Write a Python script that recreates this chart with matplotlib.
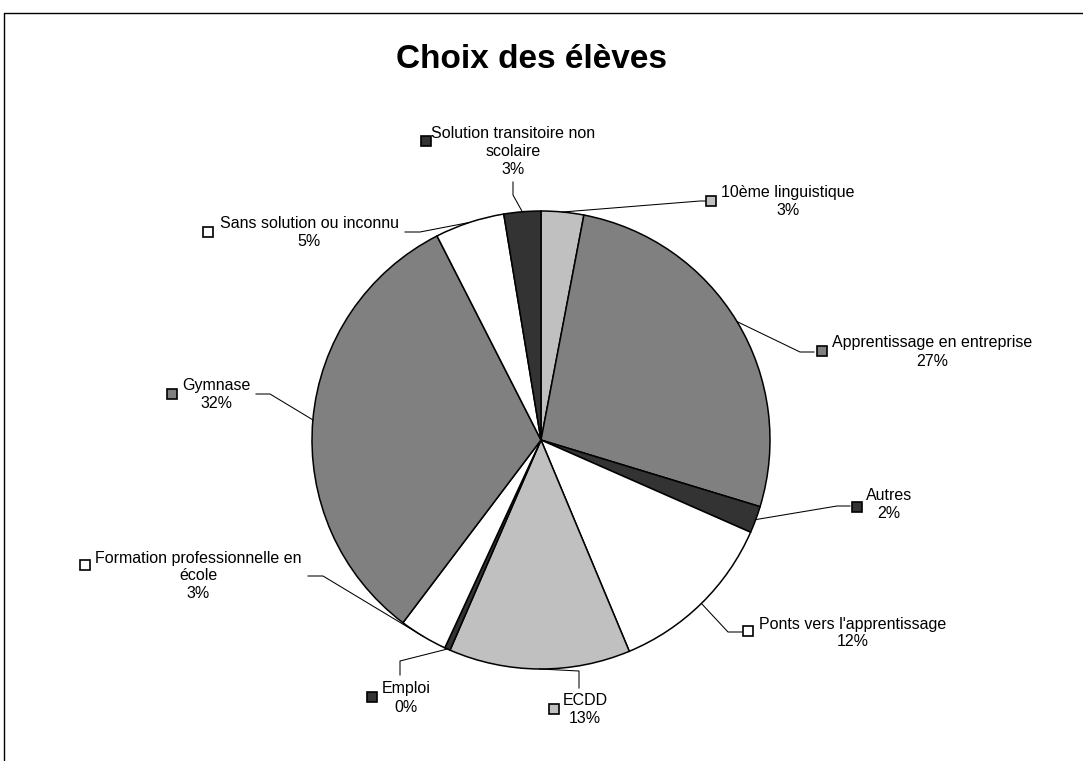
import numpy as np
import matplotlib
matplotlib.use("Agg")
import matplotlib.pyplot as plt

# Data (percent of pupils, clockwise from 12 o'clock)
categories = ["10ème linguistique", "Apprentissage en entreprise", "Autres",
              "Ponts vers l'apprentissage", "ECDD", "Emploi",
              "Formation professionnelle en\nécole", "Gymnase",
              "Sans solution ou inconnu",
              "Solution transitoire non\nscolaire"]
values = [3.0, 26.7, 1.9, 12.1, 12.8, 0.4, 3.4, 32.2, 4.9, 2.6]

LIGHT = "#C0C0C0"
MID = "#808080"
DARK = "#333333"
WHITE = "#FFFFFF"
colours = [LIGHT, MID, DARK, WHITE, LIGHT, DARK, WHITE, MID, WHITE, DARK]

# Layout, in pixels measured from the top left corner of the picture
W, H = 1083, 761
CX, CY, R = 541, 440, 229
text_pos = [(788, 201.5), (932, 352), (889, 505), (853, 633), (585, 709.5),
            (406, 698), (198, 576), (216, 394.5), (309, 233), (513, 152)]
key_pos = [(711, 201), (822, 351), (857, 507), (748, 631), (554, 709),
           (372, 697), (85, 565), (172, 394), (208, 232), (426, 141)]
elbows = [(700, 201), (800, 352), (837, 506), (728, 632), (579, 671),
          (400, 661), (323, 576), (270, 394), (420, 232), (513, 195)]
ends = [(707, 201), (814, 352), (850, 506), (742, 632), (579, 688),
        (400, 675), (308, 576), (256, 394), (405, 232), (513, 182)]

plt.rcParams['font.family'] = ['Liberation Sans', 'DejaVu Sans']


def px(x, y):
    # pixel (top-left origin) to data coords
    return x, H - y


fig = plt.figure(figsize=(W / 100, H / 100), dpi=100)
ax = fig.add_axes([0, 0, 1, 1])

ax.pie(values, colors=colours, startangle=90, counterclock=False,
       center=px(CX, CY), radius=R,
       wedgeprops=dict(edgecolor="black", linewidth=1.1))

ax.set_xlim(0, W)
ax.set_ylim(0, H)
ax.set_aspect("equal")
ax.axis("off")

total = float(sum(values))
cum = 0.0
for i in range(len(values)):
    pct = values[i] / total * 100
    theta = np.radians(360.0 * (cum + values[i] / 2) / total)
    cum += values[i]
    sx, sy = CX + R * np.sin(theta), CY - R * np.cos(theta)
    xs = [sx, elbows[i][0], ends[i][0]]
    ys = [sy, elbows[i][1], ends[i][1]]
    ax.plot(xs, [H - y for y in ys], color="black", lw=0.75)

    kx, ky = px(*key_pos[i])
    ax.plot(kx, ky, marker="s", markersize=6.5, markerfacecolor=colours[i],
            markeredgecolor="black", markeredgewidth=1.2)

    tx, ty = px(*text_pos[i])
    ax.text(tx, ty, "{}\n{:.0f}%".format(categories[i], pct),
            ha="center", va="center", fontsize=11.5, linespacing=1.25,
            multialignment="center")

tx, ty = px(532, 68)
ax.text(tx, ty, "Choix des élèves", ha="center", va="baseline",
        fontsize=24, fontweight="bold")

# chart frame (only top and left edges are visible)
ax.plot([4, 4, W], [0, H - 13, H - 13], color="black", lw=1.0,
        clip_on=False)

fig.savefig("out.png", dpi=100)
